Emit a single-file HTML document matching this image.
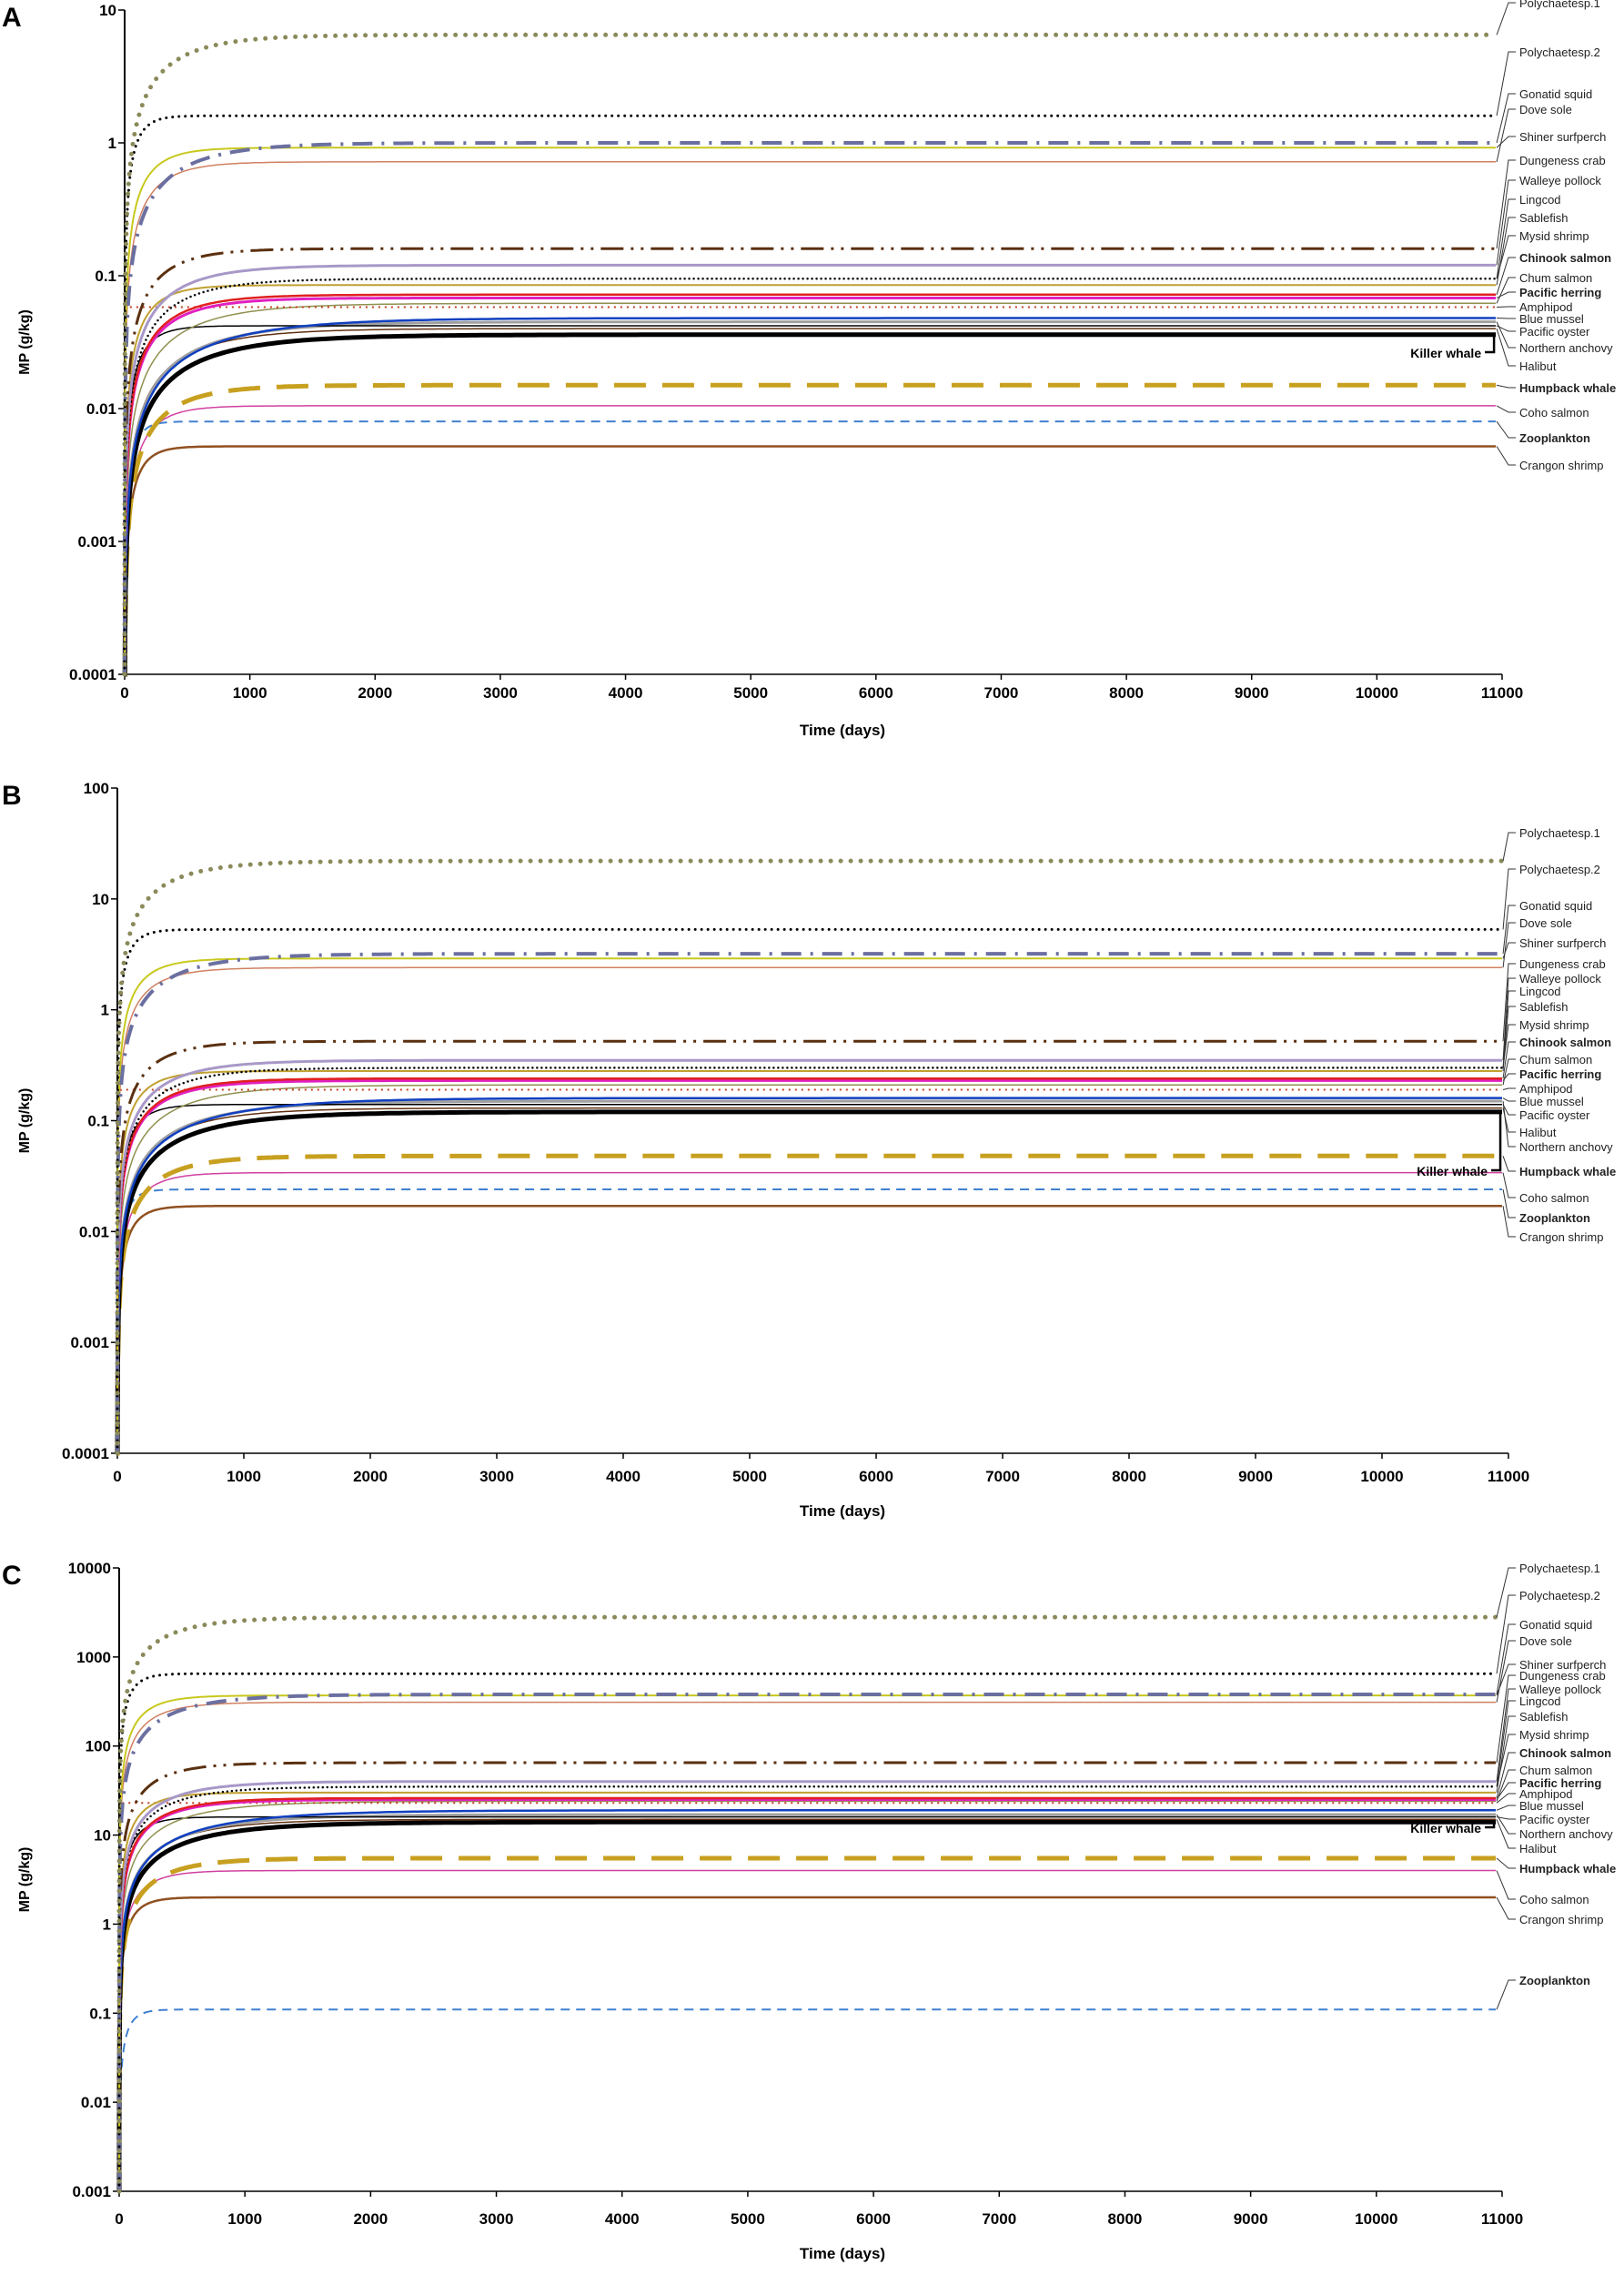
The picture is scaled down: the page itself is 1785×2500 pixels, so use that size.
<!DOCTYPE html>
<html><head><meta charset="utf-8">
<style>
html,body{margin:0;padding:0;background:#fff;}
svg{display:block;font-family:"Liberation Sans",Arial,sans-serif;}
</style></head>
<body>
<svg id="chart" width="1785" height="2500" viewBox="0 0 1785 2500" xmlns="http://www.w3.org/2000/svg"></svg>
<script>
// ---- data ----
const speciesNames = ["Polychaetesp.1","Polychaetesp.2","Gonatid squid","Shiner surfperch","Dove sole","Dungeness crab","Walleye pollock","Lingcod","Sablefish","Chinook salmon","Pacific herring","Amphipod","Chum salmon","Blue mussel","Pacific oyster","Northern anchovy","Halibut","Killer whale","Humpback whale","Coho salmon","Zooplankton","Crangon shrimp"];
const plateauA = [6.5,1.6,1.0,0.92,0.72,0.16,0.12,0.095,0.085,0.072,0.068,0.058,0.062,0.048,0.042,0.045,0.040,0.036,0.015,0.0105,0.008,0.0052];
const plateauB = [22,5.3,3.2,2.9,2.4,0.52,0.35,0.30,0.28,0.24,0.23,0.19,0.21,0.16,0.14,0.15,0.13,0.12,0.048,0.034,0.024,0.017];
const plateauC = [2800,650,380,370,310,65,40,35,30,26,25,23,24,19,16,17,15,14,5.5,4.0,0.11,2.0];
const riseDays = [400,100,450,200,250,300,400,400,200,350,350,5,500,700,150,600,500,600,350,200,80,120];
const xTicks = [0,1000,2000,3000,4000,5000,6000,7000,8000,9000,10000,11000];
const tEnd = 10950;
// extra label that shares a line end with another series
const extraLabel = {name:"Mysid shrimp", series:7};

const styles = [
 {c:"#8a8a5a",w:5,d:"0 11",cap:"round"},
 {c:"#000",w:3,d:"0 7",cap:"round"},
 {c:"#6b6fa0",w:4,d:"22 10 3 10"},
 {c:"#c8c81e",w:2},
 {c:"#d08060",w:1.5},
 {c:"#5a3010",w:3,d:"25 8 3 8 3 8"},
 {c:"#a898c8",w:3},
 {c:"#000",w:2.5,d:"0 5",cap:"round"},
 {c:"#c0a030",w:2},
 {c:"#e02020",w:2.5},
 {c:"#e020c0",w:3},
 {c:"#c04020",w:2,d:"2 5"},
 {c:"#909050",w:1.5},
 {c:"#1040c0",w:2.5},
 {c:"#000",w:1.5},
 {c:"#a0a0a0",w:3},
 {c:"#603010",w:1.5},
 {c:"#000",w:5},
 {c:"#c8a020",w:5,d:"35 18"},
 {c:"#d040a0",w:1.5},
 {c:"#4080d0",w:2,d:"10 7"},
 {c:"#905020",w:2.5}
];
const boldNames = {"Chinook salmon":1,"Pacific herring":1,"Killer whale":1,"Humpback whale":1,"Zooplankton":1};

const panels = [
 {id:"a",letter:"A",x0:137,x1:1651,yTop:11,yBot:741,dTop:1,dBot:-4,tickY:767,titleY:808,vals:plateauA,
  labY:{"Polychaetesp.1":8,"Polychaetesp.2":62,"Gonatid squid":108,"Dove sole":125,"Shiner surfperch":155,"Dungeness crab":181,"Walleye pollock":203,"Lingcod":224,"Sablefish":244,"Mysid shrimp":264,"Chinook salmon":288,"Chum salmon":310,"Pacific herring":326,"Amphipod":342,"Blue mussel":355,"Pacific oyster":369,"Northern anchovy":387,"Halibut":407,"Humpback whale":431,"Coho salmon":458,"Zooplankton":486,"Crangon shrimp":516,"Killer whale":393}},
 {id:"b",letter:"B",x0:129,x1:1658,yTop:866,yBot:1597,dTop:2,dBot:-4,tickY:1628,titleY:1666,vals:plateauB,
  labY:{"Polychaetesp.1":920,"Polychaetesp.2":960,"Gonatid squid":1000,"Dove sole":1019,"Shiner surfperch":1041,"Dungeness crab":1064,"Walleye pollock":1080,"Lingcod":1094,"Sablefish":1111,"Mysid shrimp":1131,"Chinook salmon":1150,"Chum salmon":1169,"Pacific herring":1185,"Amphipod":1201,"Blue mussel":1215,"Pacific oyster":1230,"Halibut":1249,"Northern anchovy":1265,"Humpback whale":1292,"Coho salmon":1321,"Zooplankton":1343,"Crangon shrimp":1364,"Killer whale":1292}},
 {id:"c",letter:"C",x0:131,x1:1651,yTop:1723,yBot:2408,dTop:4,dBot:-3,tickY:2444,titleY:2482,vals:plateauC,
  labY:{"Polychaetesp.1":1728,"Polychaetesp.2":1758,"Gonatid squid":1790,"Dove sole":1808,"Shiner surfperch":1834,"Dungeness crab":1846,"Walleye pollock":1861,"Lingcod":1874,"Sablefish":1891,"Mysid shrimp":1911,"Chinook salmon":1931,"Chum salmon":1950,"Pacific herring":1964,"Amphipod":1976,"Blue mussel":1989,"Pacific oyster":2004,"Northern anchovy":2020,"Halibut":2036,"Humpback whale":2058,"Coho salmon":2092,"Crangon shrimp":2114,"Zooplankton":2181,"Killer whale":2014}}
];

// ---- drawing ----
const NS="http://www.w3.org/2000/svg";
const svg=document.getElementById("chart");
function mk(tag,attrs,parent){const e=document.createElementNS(NS,tag);for(const k in attrs)e.setAttribute(k,attrs[k]);(parent||svg).appendChild(e);return e;}

panels.forEach(p=>{
  const g=mk("g",{});
  
  
  const xs=t=>p.x0+(t/11000)*(p.x1-p.x0);
  const ys=v=>{const l=Math.log10(v);const f=(p.dTop-l)/(p.dTop-p.dBot);return p.yTop+f*(p.yBot-p.yTop);};
  const ysC=v=>v<=0?p.yBot:Math.min(p.yBot,ys(v));

  const L=mk("text",{x:2,y:p.yTop+18,"font-size":30,"font-weight":"bold"},g);L.textContent=p.letter;
  
  

  const ya=mk("line",{x1:p.x0,y1:p.yTop,x2:p.x0,y2:p.yBot,stroke:"#000","stroke-width":2},g);
  
  
  const xa=mk("line",{x1:p.x0,y1:p.yBot,x2:p.x1,y2:p.yBot,stroke:"#000","stroke-width":1.5},g);
  
  
  for(let d=p.dBot;d<=p.dTop;d++){
    const y=ys(Math.pow(10,d));
    mk("line",{x1:p.x0-7,y1:y,x2:p.x0,y2:y,stroke:"#000","stroke-width":1.5},g);
    const t=mk("text",{x:p.x0-9,y:y+6,"font-size":17,"font-weight":"bold","text-anchor":"end"},g);
    t.textContent=d>=0?String(Math.pow(10,d)):Math.pow(10,d).toFixed(-d);
    
    
  }
  xTicks.forEach(v=>{
    const x=xs(v);
    mk("line",{x1:x,y1:p.yBot,x2:x,y2:p.yBot+6,stroke:"#000","stroke-width":1.5},g);
    const t=mk("text",{x:x,y:p.tickY,"font-size":17,"font-weight":"bold","text-anchor":"middle"},g);
    t.textContent=v;
    
    
  });
  const yt=mk("text",{x:0,y:0,"font-size":16,"font-weight":"bold","text-anchor":"middle",transform:`translate(32,${(p.yTop+p.yBot)/2}) rotate(-90)`},g);
  yt.textContent="MP (g/kg)";
  
  
  const xt=mk("text",{x:926,y:p.titleY,"font-size":17,"font-weight":"bold","text-anchor":"middle"},g);
  xt.textContent="Time (days)";
  
  

  const xe=xs(tEnd);
  for(let i=p.vals.length-1;i>=0;i--){
    const V=p.vals[i],tau=riseDays[i],s=styles[i];
    let pts=[];const N=260;
    for(let k=0;k<=N;k++){const t=tEnd*Math.pow(k/N,2.2);const v=V*(1-Math.exp(-t/tau));pts.push(xs(t).toFixed(1)+","+ysC(v).toFixed(1));}
    const a={d:"M"+pts.join("L"),fill:"none",stroke:s.c,"stroke-width":s.w};
    if(s.d)a["stroke-dasharray"]=s.d;
    if(s.cap)a["stroke-linecap"]=s.cap;
    const path=mk("path",a,g);
    
    
  }
  const labelX = 1670;
  function drawLabel(n,yv){
    const yl=p.labY[n];if(yl===undefined)return;
    if(n==="Killer whale"){
      mk("path",{d:`M${xe-2},${yv} L${xe-2},${yl-6} L${xe-12},${yl-6}`,fill:"none",stroke:"#000","stroke-width":2.5},g);
      const t=mk("text",{x:xe-16,y:yl,"font-size":14,"font-weight":"bold","text-anchor":"end"},g);
      t.textContent=n;
      
      
      return;
    }
    mk("path",{d:`M${xe+1},${yv} L${labelX-12},${yl-5} L${labelX-4},${yl-5}`,fill:"none",stroke:"#333","stroke-width":1},g);
    const t=mk("text",{x:labelX,y:yl,"font-size":13,"font-weight":boldNames[n]?"bold":"normal",fill:"#222"},g);
    t.textContent=n;
    
    
  }
  speciesNames.forEach((n,i)=>drawLabel(n,ys(p.vals[i])));
  drawLabel(extraLabel.name, ys(p.vals[extraLabel.series]));
});
</script>
</body></html>
